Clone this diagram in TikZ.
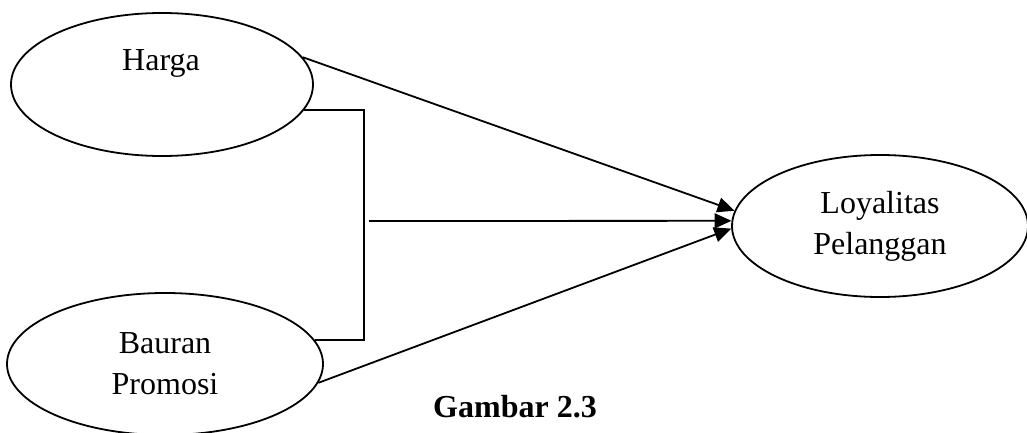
\documentclass[tikz,border=0pt]{standalone}
\usepackage{fontspec}
\setmainfont{Liberation Serif}
\usetikzlibrary{shapes.geometric,arrows.meta}
\begin{document}
\begin{tikzpicture}[x=0.5pt,y=-0.5pt,
  ell/.style={draw, ellipse, inner sep=0pt, line width=0.9pt, align=center, font=\fontsize{16}{20.5}\selectfont},
  lbl/.style={inner sep=0pt, font=\fontsize{16}{20.5}\selectfont},
  conn/.style={line width=0.9pt},
  arr/.style={conn, -{Triangle[length=8.5pt,width=7.5pt]}}]
\useasboundingbox (0,0) rectangle (1027,433);
\node[ell, minimum width=151pt, minimum height=71.5pt] (h) at (162,84.5) {};
\node[lbl, anchor=base] (ht) at (161,71) {Harga};
\node[ell, minimum width=158pt, minimum height=71pt] (b) at (165,364) {Bauran\\Promosi};
\node[ell, minimum width=148pt, minimum height=71pt] (l) at (880,226) {Loyalitas\\Pelanggan};
\node[lbl, anchor=base, font=\bfseries\fontsize{16}{20.5}\selectfont] (g) at (515,417) {Gambar 2.3};
\coordinate (jx) at (364,221);
\coordinate (m) at (369,221);
\draw[arr] (h.11) -- (l.174.6);
\draw[conn] (h.-10) -| (jx) |- (b.9);
\draw[arr] (m) -- (l.178);
\draw[arr] (b.-7.5) -- (l.181.5);
\end{tikzpicture}
\end{document}
